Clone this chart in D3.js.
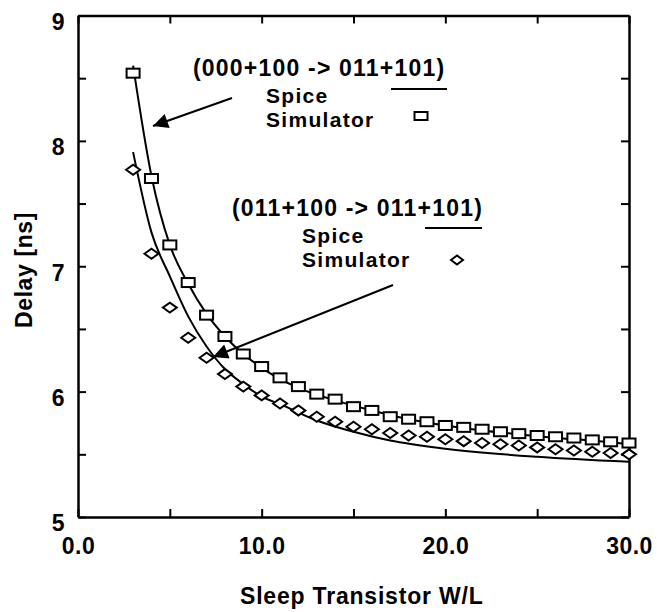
<!DOCTYPE html>
<html>
<head>
<meta charset="utf-8">
<script src="https://cdn.jsdelivr.net/npm/d3@7"></script>
<style>
  body { margin: 0; background: #fff; }
  text { font-family: "Liberation Sans", Arial, sans-serif; font-weight: bold; fill: #000; }
</style>
</head>
<body>
<svg id="chart" width="657" height="612"></svg>
<script>
// sleep transistor W/L used for the simulator points
const wl = [3, 4, 5, 6, 7, 8, 9, 10, 11, 12, 13, 14, 15, 16, 17, 18, 19, 20, 21, 22, 23, 24, 25, 26, 27, 28, 29, 30];
// (000+100 -> 011+101) simulator
const sim1 = [8.54, 7.70, 7.17, 6.87, 6.61, 6.44, 6.30, 6.20, 6.11, 6.04, 5.98, 5.94, 5.88, 5.85, 5.80, 5.78, 5.76, 5.73, 5.715, 5.70, 5.68, 5.665, 5.65, 5.64, 5.63, 5.615, 5.60, 5.59];
// (011+100 -> 011+101) simulator
const sim2 = [7.77, 7.10, 6.67, 6.43, 6.27, 6.14, 6.04, 5.97, 5.905, 5.85, 5.80, 5.76, 5.72, 5.70, 5.67, 5.65, 5.64, 5.62, 5.605, 5.59, 5.58, 5.57, 5.555, 5.54, 5.53, 5.52, 5.51, 5.50];
// spice curves
const spice1X = [3, 4, 5, 6, 7, 8, 9, 10, 12, 14, 16, 18, 20, 22, 24, 26, 28, 30];
const spice1Y = [8.60, 7.72, 7.17, 6.86, 6.62, 6.44, 6.30, 6.19, 6.03, 5.93, 5.85, 5.78, 5.73, 5.69, 5.66, 5.63, 5.61, 5.58];
const spice2X = [3, 4, 5, 6, 7, 8, 9, 10, 11, 13, 15, 17, 20, 25, 30];
const spice2Y = [7.91, 7.27, 6.92, 6.60, 6.36, 6.18, 6.06, 5.96, 5.90, 5.77, 5.68, 5.61, 5.545, 5.48, 5.44];

const xMajor = [0, 10, 20, 30];
const xMinor = [5, 15, 25];
const yMajor = [5, 6, 7, 8, 9];
const yMinor = [5.5, 6.5, 7.5, 8.5];

const svg = d3.select("#chart");
const margin = { top: 15.5, right: 28, bottom: 95, left: 78 };
const width = 657 - margin.left - margin.right;
const height = 612 - margin.top - margin.bottom;

const x = d3.scaleLinear().domain([0, 30]).range([margin.left, margin.left + width]);
const y = d3.scaleLinear().domain([5, 9]).range([margin.top + height, margin.top]);

const allX = xMajor.concat(xMinor);
const allY = yMajor.concat(yMinor);

// axes, ticks pointing inward
function styleAxis(g) {
  g.select(".domain").attr("stroke", "#000").attr("stroke-width", 2.5);
  g.selectAll(".tick line").attr("stroke", "#000").attr("stroke-width", 2);
}
function styleLabels(g) {
  g.selectAll(".tick text")
    .attr("font-size", 23).attr("letter-spacing", 0.5)
    .attr("font-family", "Liberation Sans, Arial").attr("font-weight", "bold").attr("fill", "#000");
}

svg.append("g")
  .attr("transform", `translate(0,${y(5)})`)
  .call(d3.axisBottom(x).tickValues(allX).tickSizeInner(-8).tickSizeOuter(0)
    .tickFormat(d => xMajor.includes(d) ? d3.format(".1f")(d) : ""))
  .call(styleAxis)
  .call(styleLabels)
  .call(g => g.selectAll(".tick text").attr("y", 21).attr("dy", "0.71em"));

svg.append("g")
  .attr("transform", `translate(0,${y(9)})`)
  .call(d3.axisTop(x).tickValues(allX).tickSizeInner(-8).tickSizeOuter(0).tickFormat(""))
  .call(styleAxis);

svg.append("g")
  .attr("transform", `translate(${x(0)},0)`)
  .call(d3.axisLeft(y).tickValues(allY).tickSizeInner(-8).tickSizeOuter(0)
    .tickFormat(d => yMajor.includes(d) ? d3.format("d")(d) : ""))
  .call(styleAxis)
  .call(styleLabels)
  .call(g => g.selectAll(".tick text").attr("x", -13).attr("dy", "0.6em"));

svg.append("g")
  .attr("transform", `translate(${x(30)},0)`)
  .call(d3.axisRight(y).tickValues(allY).tickSizeInner(-8).tickSizeOuter(0).tickFormat(""))
  .call(styleAxis);

// axis titles
svg.append("text")
  .attr("x", 240).attr("y", 604)
  .attr("font-size", 23).attr("letter-spacing", 0.8)
  .text("Sleep Transistor W/L");

svg.append("text")
  .attr("transform", "translate(32,270) rotate(-90)")
  .attr("text-anchor", "middle").attr("font-size", 23).attr("letter-spacing", 0.6)
  .text("Delay [ns]");

// spice lines
const line = d3.line().x(d => x(d[0])).y(d => y(d[1])).curve(d3.curveMonotoneX);

svg.append("path")
  .datum(spice1X.map((v, i) => [v, spice1Y[i]]))
  .attr("d", line).attr("fill", "none").attr("stroke", "#000").attr("stroke-width", 2);

svg.append("path")
  .datum(spice2X.map((v, i) => [v, spice2Y[i]]))
  .attr("d", line).attr("fill", "none").attr("stroke", "#000").attr("stroke-width", 2);

// simulator markers
const sq = { w: 13, h: 9 };
svg.append("g").selectAll("rect")
  .data(wl.map((v, i) => [v, sim1[i]]))
  .join("rect")
  .attr("x", d => x(d[0]) - sq.w / 2).attr("y", d => y(d[1]) - sq.h / 2)
  .attr("width", sq.w).attr("height", sq.h)
  .attr("fill", "#fff").attr("stroke", "#000").attr("stroke-width", 2);

const diamond = "M-7,0L0,-5L7,0L0,5Z";
svg.append("g").selectAll("path")
  .data(wl.map((v, i) => [v, sim2[i]]))
  .join("path")
  .attr("transform", d => `translate(${x(d[0])},${y(d[1])})`)
  .attr("d", diamond)
  .attr("fill", "#fff").attr("stroke", "#000").attr("stroke-width", 2);

// legends
function legend(tx, ty, label, sx, lineX1, lineX2, lineY, markX, markY, isSquare) {
  svg.append("text").attr("x", tx).attr("y", ty).attr("font-size", 23).attr("letter-spacing", 1.2).text(label);
  svg.append("text").attr("x", sx).attr("y", ty + 27).attr("font-size", 21).attr("letter-spacing", 1.3).text("Spice");
  svg.append("text").attr("x", sx).attr("y", ty + 51).attr("font-size", 21).attr("letter-spacing", 1.3).text("Simulator");
  svg.append("line").attr("x1", lineX1).attr("x2", lineX2).attr("y1", lineY).attr("y2", lineY)
    .attr("stroke", "#000").attr("stroke-width", 2);
  if (isSquare) {
    svg.append("rect").attr("x", markX - 6.5).attr("y", markY - 4).attr("width", 13).attr("height", 8)
      .attr("fill", "#fff").attr("stroke", "#000").attr("stroke-width", 2);
  } else {
    svg.append("path").attr("transform", `translate(${markX},${markY})`).attr("d", "M-6,0L0,-4.5L6,0L0,4.5Z")
      .attr("fill", "#fff").attr("stroke", "#000").attr("stroke-width", 2);
  }
}
legend(193, 76, "(000+100 -> 011+101)", 266, 391, 447, 89, 421, 116, true);
legend(232, 216, "(011+100 -> 011+101)", 302, 425, 482, 228, 457, 260, false);

// arrows
svg.append("defs").append("marker")
  .attr("id", "head").attr("viewBox", "0 0 10 10").attr("refX", 10).attr("refY", 5)
  .attr("markerWidth", 19).attr("markerHeight", 15).attr("markerUnits", "userSpaceOnUse")
  .attr("orient", "auto")
  .append("path").attr("d", "M0,0L10,5L0,10Z").attr("fill", "#000");

svg.append("line").attr("x1", 232).attr("y1", 98).attr("x2", 153).attr("y2", 126)
  .attr("stroke", "#000").attr("stroke-width", 2).attr("marker-end", "url(#head)");
svg.append("line").attr("x1", 393).attr("y1", 285).attr("x2", 213).attr("y2", 357)
  .attr("stroke", "#000").attr("stroke-width", 2).attr("marker-end", "url(#head)");
</script>
</body>
</html>
